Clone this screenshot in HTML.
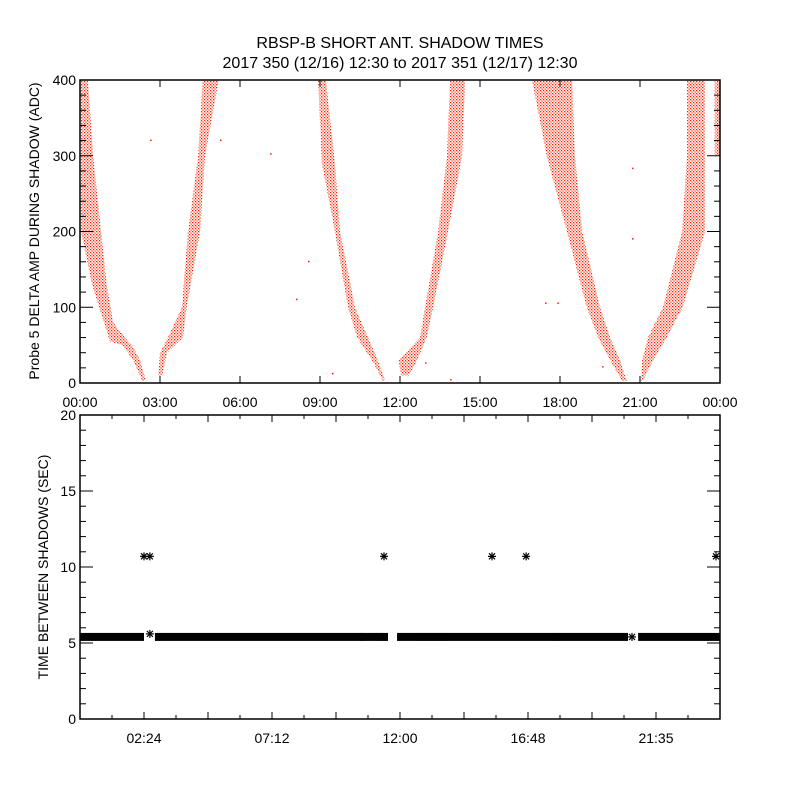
<!DOCTYPE html>
<html><head><meta charset="utf-8"><style>
body{margin:0;background:#fff;}
svg text{font-family:"Liberation Sans",sans-serif;fill:#000;}
</style></head><body>
<svg id="c" width="800" height="800" viewBox="0 0 800 800" xmlns="http://www.w3.org/2000/svg">
<defs>
<pattern id="dots" width="3" height="3" patternUnits="userSpaceOnUse">
<rect x="0" y="0" width="1.3" height="1.3" fill="#ff2000"/><rect x="1.5" y="1.5" width="1.2" height="1.2" fill="#ff2000"/>
</pattern>
</defs>
<rect width="800" height="800" fill="#fff"/>
<text x="400" y="48" font-size="16" text-anchor="middle">RBSP-B SHORT ANT. SHADOW TIMES</text>
<text x="400" y="68" font-size="16" text-anchor="middle">2017 350 (12/16) 12:30 to 2017 351 (12/17) 12:30</text>
<g id="topPanel"></g><g id="botPanel"></g>
</svg>
<script>
// ---- top panel data: bands of shadow amplitude (value levels and time ranges in hours)
const seg1Levels=[400,300,200,130,80,55,50,30,3];
const seg1Lo=[0,0.04,0.04,0.45,0.9,1.12,1.6,2.0,2.33];
const seg1Hi=[0.3,0.49,0.79,1.0,1.24,1.8,1.95,2.25,2.47];
const seg2Levels=[10,40,60,100,200,300,400];
const seg2Lo=[2.93,3.0,3.3,3.82,4.05,4.43,4.6];
const seg2Hi=[3.08,3.26,3.86,4.0,4.5,4.69,5.2];
const seg3Levels=[400,290,200,100,60,30,3];
const seg3Lo=[8.93,9.07,9.56,10.05,10.39,10.95,11.36];
const seg3Hi=[9.22,9.56,9.75,10.31,10.8,11.17,11.44];
const seg4Levels=[10,30,60,100,200,300,400];
const seg4Lo=[12.04,11.95,12.75,12.94,13.43,13.76,13.88];
const seg4Hi=[12.34,12.64,13.0,13.24,13.8,14.33,14.44];
const seg5Levels=[400,300,200,100,60,30,3];
const seg5Lo=[16.95,17.5,18.26,19.0,19.43,19.88,20.33];
const seg5Hi=[18.45,18.56,18.83,19.5,19.88,20.25,20.5];
const seg6Levels=[3,30,60,100,200,300,400];
const seg6Lo=[21.04,21.08,21.3,21.86,22.58,22.76,22.76];
const seg6Hi=[21.1,21.49,22.0,22.6,23.44,23.44,23.44];
const seg7Levels=[400,300];
const seg7Lo=[23.8,23.8];
const seg7Hi=[24,24];
const outlierT=[2.63,5.25,7.13,8.55,8.1,9.45,20.7,20.7,17.44,17.9,13.88,12.94,19.58];
const outlierV=[320,320,302,160,110,12,283,190,105,105,4,26,21];
const topXTicks=["00:00","03:00","06:00","09:00","12:00","15:00","18:00","21:00","00:00"];
const topYTicks=[0,100,200,300,400];
// ---- bottom panel data
const bandStart=[0,2.81,11.89,20.93];
const bandEnd=[2.4,11.55,20.55,24];
const bandValue=[5.4,5.4,5.4,5.4];
const starT=[2.4,2.62,11.4,15.45,16.73,23.85,2.62,20.7,10.55,11.3,12.9,13.5,17.8];
const starV=[10.7,10.7,10.7,10.7,10.7,10.7,5.6,5.4,5.4,5.4,5.4,5.4,5.4];
const botXTicks=["02:24","07:12","12:00","16:48","21:35"];
const botYTicks=[0,5,10,15,20];

const NS="http://www.w3.org/2000/svg";
function mk(p,tag,at){const e=document.createElementNS(NS,tag);for(const k in at)e.setAttribute(k,at[k]);p.appendChild(e);return e;}
const X0=80,X1=720;
const tx=h=>X0+(X1-X0)*h/24;
const T0=80,T1=383;const ty=v=>T1-(T1-T0)*v/400;
const B0=415,B1=719;const by=v=>B1-(B1-B0)*v/20;
const topG=document.getElementById('topPanel'),botG=document.getElementById('botPanel');

const segs=[[seg1Levels,seg1Lo,seg1Hi],[seg2Levels,seg2Lo,seg2Hi],[seg3Levels,seg3Lo,seg3Hi],[seg4Levels,seg4Lo,seg4Hi],[seg5Levels,seg5Lo,seg5Hi],[seg6Levels,seg6Lo,seg6Hi],[seg7Levels,seg7Lo,seg7Hi]];
segs.forEach((s,i)=>{
 const [L,lo,hi]=s;let pts=[];
 for(let k=0;k<L.length;k++)pts.push(tx(lo[k])+','+ty(L[k]));
 for(let k=L.length-1;k>=0;k--)pts.push(tx(hi[k])+','+ty(L[k]));
 const p=mk(topG,'polygon',{points:pts.join(' '),fill:'url(#dots)'});
 
 
});
outlierT.forEach((t,i)=>{
 const r=mk(topG,'rect',{x:tx(t),y:ty(outlierV[i])-1,width:1.5,height:1.5,fill:'#ff2000'});
 
 
});
const f1=mk(topG,'rect',{x:X0,y:T0,width:X1-X0,height:T1-T0,fill:'none',stroke:'#000','stroke-width':1.5});


for(let v=0;v<=400;v+=20){const len=v%100===0?13:6;const y=ty(v);
 mk(topG,'line',{x1:X0,x2:X0+len,y1:y,y2:y,stroke:'#000'});mk(topG,'line',{x1:X1,x2:X1-len,y1:y,y2:y,stroke:'#000'});}
topYTicks.forEach(v=>{const t=mk(topG,'text',{x:76,y:ty(v)+5,'font-size':14,'text-anchor':'end'});t.textContent=v;
 
 });
topXTicks.forEach((s,i)=>{const x=tx(i*3);
 mk(topG,'line',{x1:x,x2:x,y1:T1,y2:T1-7,stroke:'#000'});mk(topG,'line',{x1:x,x2:x,y1:T0,y2:T0+7,stroke:'#000'});
 const t=mk(topG,'text',{x:x,y:407,'font-size':14,'text-anchor':'middle'});t.textContent=s;
 
 });
const yt1=mk(topG,'text',{x:0,y:0,'font-size':14,'text-anchor':'middle',transform:'translate(39,231) rotate(-90)'});
yt1.textContent='Probe 5 DELTA AMP DURING SHADOW (ADC)';



bandStart.forEach((s,i)=>{
 const r=mk(botG,'rect',{x:tx(s),y:by(bandValue[i])-4,width:tx(bandEnd[i])-tx(s),height:8,fill:'#000'});
 
 
});
starT.forEach((t,i)=>{
 const x=tx(t),y=by(starV[i]);
 const g=mk(botG,'g',{stroke:'#000','stroke-width':1.2});
 
 
 mk(g,'line',{x1:x-4,x2:x+4,y1:y,y2:y});mk(g,'line',{x1:x,x2:x,y1:y-4,y2:y+4});
 mk(g,'line',{x1:x-3,x2:x+3,y1:y-3,y2:y+3});mk(g,'line',{x1:x-3,x2:x+3,y1:y+3,y2:y-3});
});
const f2=mk(botG,'rect',{x:X0,y:B0,width:X1-X0,height:B1-B0,fill:'none',stroke:'#000','stroke-width':1.5});


for(let v=0;v<=20;v++){const len=v%5===0?13:6;const y=by(v);
 mk(botG,'line',{x1:X0,x2:X0+len,y1:y,y2:y,stroke:'#000'});mk(botG,'line',{x1:X1,x2:X1-len,y1:y,y2:y,stroke:'#000'});}
for(let k=0;k<=20;k++){const x=tx(k*1.2);const len=k%2===0?7:4;
 mk(botG,'line',{x1:x,x2:x,y1:B1,y2:B1-len,stroke:'#000'});mk(botG,'line',{x1:x,x2:x,y1:B0,y2:B0+len,stroke:'#000'});}
botYTicks.forEach(v=>{const t=mk(botG,'text',{x:76,y:by(v)+5,'font-size':14,'text-anchor':'end'});t.textContent=v;
 
 });
botXTicks.forEach((s,i)=>{const t=mk(botG,'text',{x:tx(2.4+i*4.8),y:743,'font-size':14,'text-anchor':'middle'});t.textContent=s;
 
 });
const yt2=mk(botG,'text',{x:0,y:0,'font-size':14,'text-anchor':'middle',transform:'translate(48,567) rotate(-90)'});
yt2.textContent='TIME BETWEEN SHADOWS (SEC)';


</script>
</body></html>
